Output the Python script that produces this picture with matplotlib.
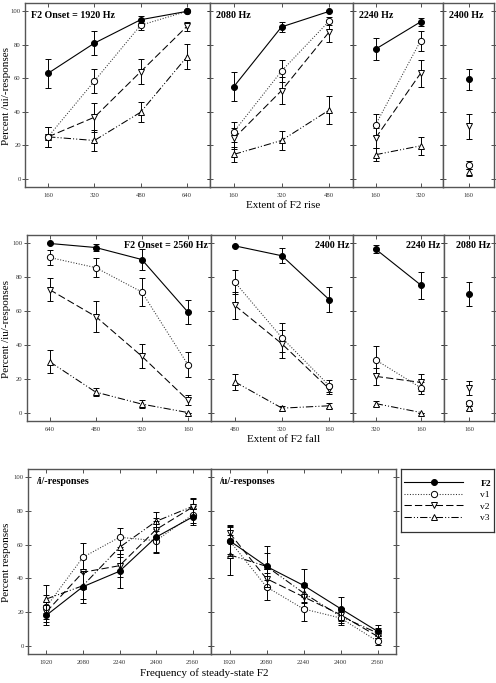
import matplotlib
matplotlib.use('Agg')
import matplotlib.pyplot as plt
from matplotlib.lines import Line2D

plt.rcParams['font.family'] = ['Liberation Serif', 'DejaVu Serif']

series = ['F2', 'v1', 'v2', 'v3']

# ---------------- Row 1: rising F2 ----------------
rise_titles = ['F2 Onset = 1920 Hz', '2080 Hz', '2240 Hz', '2400 Hz']
rise_extents = [[160, 320, 480, 640], [160, 320, 480], [160, 320], [160]]
rise_F2 = [[63, 81, 95, 100], [55, 90.7, 100], [77.4, 93.7], [59.5]]
rise_F2_err = [[8.7, 7.3, 2, 0], [8.5, 3, 0], [6.5, 2.5], [6.3]]
rise_v1 = [[25, 58.3, 91.7, 100], [28, 64.3, 94.2], [32.1, 82.3], [8.3]]
rise_v1_err = [[6, 7.2, 3, 0], [6, 6.5, 2.5], [6.5, 6], [2.5]]
rise_v2 = [[25, 36.7, 63.9, 91], [24, 52.6, 87.7], [24.2, 62.9], [31.2]]
rise_v2_err = [[6, 8.7, 7.6, 2.5], [6, 8, 6], [6, 8], [7.5]]
rise_v3 = [[25, 22.8, 39.7, 72.8], [14.5, 22.8, 41], [14.3, 19.6], [3.8]]
rise_v3_err = [[6, 6, 6, 7.4], [4.5, 5.5, 8.5], [4, 5.5], [2]]

# ---------------- Row 2: falling F2 ----------------
fall_titles = ['F2 Onset = 2560 Hz', '2400 Hz', '2240 Hz', '2080 Hz']
fall_extents = [[640, 480, 320, 160], [480, 320, 160], [320, 160], [160]]
fall_F2 = [[100, 97.6, 90.5, 59.4], [98.6, 92.7, 66.7], [96.6, 75.2], [70.3]]
fall_F2_err = [[0, 2, 6, 7.3], [0, 4.5, 7.3], [2.5, 8.2], [7]]
fall_v1 = [[91.7, 85.7, 71.3, 28.3], [77.2, 44.2, 15.8], [31.1, 14.5], [5.5]]
fall_v1_err = [[4.5, 5.5, 8, 7.4], [7, 8.5, 3.5], [8, 3.5], [1.5]]
fall_v2 = [[72.7, 56.8, 33.3, 7.3], [63.4, 40.6, 13.9], [21.4, 17.8], [14.5]]
fall_v2_err = [[7, 9, 7.2, 3], [8, 8.5, 3], [5, 5], [4]]
fall_v3 = [[30.1, 12.1, 5, 0], [18.2, 2.6, 4], [5.3, 0], [2.6]]
fall_v3_err = [[6.7, 2.5, 2.5, 0], [4.7, 1.5, 1.5], [1.5, 0], [1]]

# ---------------- Row 3: steady-state F2 ----------------
steady_freq = [1920, 2080, 2240, 2400, 2560]
steady_titles = ['/i/-responses', '/u/-responses']
i_F2 = [18, 35, 44.2, 64.5, 76.5]
i_F2_err = [6, 9.5, 10, 9.5, 5]
i_v1 = [23, 52.5, 64.4, 62.4, 77.8]
i_v1_err = [7, 8.5, 5.5, 7, 5]
i_v2 = [20, 43.6, 47.5, 69, 82.4]
i_v2_err = [6, 8, 7, 7, 5]
i_v3 = [27.7, 35.6, 58.4, 73.9, 82.8]
i_v3_err = [8.5, 8, 6, 5.5, 5]
u_F2 = [62.4, 47.1, 35.8, 22, 8.5]
u_F2_err = [9, 12, 10, 7, 4]
u_v1 = [62.4, 34.9, 21.8, 16.4, 2.6]
u_v1_err = [8, 8, 7, 4, 2]
u_v2 = [67, 39.8, 29, 18.4, 5.5]
u_v2_err = [5, 6, 6, 4, 3]
u_v3 = [54, 47.1, 31.3, 17.4, 7.5]
u_v3_err = [12, 8, 6, 4, 3]

yticks = [0, 20, 40, 60, 80, 100]

# ---------------- styles ----------------
styles = {
    'F2': dict(ls='-', marker='o', mfc='black', color='black', lw=0.8, ms=4.3),
    'v1': dict(ls=(0, (1, 1.6)), marker='o', mfc='white', color='#333333', lw=0.75, ms=4.5),
    'v2': dict(ls=(0, (7, 3)), marker='v', mfc='white', color='black', lw=0.75, ms=4.6),
    'v3': dict(ls=(0, (7, 2, 1, 2, 1, 2)), marker='^', mfc='white', color='black', lw=0.75, ms=4.6),
}
spine_col = '#555555'

W, H = 496, 683
fig = plt.figure(figsize=(W / 100, H / 100), dpi=100)


def add_ax(x0, x1, y0, y1):
    return fig.add_axes([x0 / W, 1 - y1 / H, (x1 - x0) / W, (y1 - y0) / H])


def style_ax(ax, first):
    ax.set_ylim(-5, 105)
    ax.set_yticks(yticks)
    for sp in ax.spines.values():
        sp.set_color(spine_col)
        sp.set_linewidth(1.0)
    ax.tick_params(axis='y', direction='inout', length=4, width=0.6, colors='#333333',
                   labelsize=4.8, left=True, right=True, pad=1, labelcolor='#333333')
    ax.tick_params(axis='x', direction='in', length=2.8, width=0.6, colors='#333333',
                   labelsize=4.8, top=True, bottom=True, pad=4, labelcolor='#333333')
    if not first:
        ax.tick_params(axis='y', labelleft=False)


def plot_panel(ax, labels, data_by_series, err_by_series):
    xs = list(range(len(labels)))
    for s in ['v3', 'v2', 'v1', 'F2']:
        st = styles[s]
        ax.errorbar(xs, data_by_series[s], yerr=err_by_series[s], ls=st['ls'],
                    marker=st['marker'], mfc=st['mfc'], mec='black', mew=0.7,
                    ms=st['ms'], color=st['color'], lw=st['lw'], ecolor='black',
                    elinewidth=0.7, capsize=2.2, capthick=0.7,
                    zorder=5 if s == 'F2' else 3)
    ax.set_xticks(xs)
    ax.set_xticklabels([str(v) for v in labels])
    ax.set_xlim(-0.5, len(labels) - 0.5)


# Row 1
row1_x = [(25, 210), (210, 353), (353, 443), (443, 494)]
rise_data = {'F2': rise_F2, 'v1': rise_v1, 'v2': rise_v2, 'v3': rise_v3}
rise_errs = {'F2': rise_F2_err, 'v1': rise_v1_err, 'v2': rise_v2_err, 'v3': rise_v3_err}
for j, (x0, x1) in enumerate(row1_x):
    ax = add_ax(x0, x1, 3, 187)
    plot_panel(ax, rise_extents[j], {k: v[j] for k, v in rise_data.items()},
               {k: v[j] for k, v in rise_errs.items()})
    style_ax(ax, j == 0)
    ax.annotate(rise_titles[j], xy=(0, 1), xycoords='axes fraction',
                xytext=(4.5, -12 * 0.72), textcoords='offset points',
                ha='left', va='center', fontsize=7.2, fontweight='bold')

# Row 2
row2_x = [(26.5, 211), (211, 353), (353, 444), (444, 494)]
fall_data = {'F2': fall_F2, 'v1': fall_v1, 'v2': fall_v2, 'v3': fall_v3}
fall_errs = {'F2': fall_F2_err, 'v1': fall_v1_err, 'v2': fall_v2_err, 'v3': fall_v3_err}
for j, (x0, x1) in enumerate(row2_x):
    ax = add_ax(x0, x1, 235, 421)
    plot_panel(ax, fall_extents[j], {k: v[j] for k, v in fall_data.items()},
               {k: v[j] for k, v in fall_errs.items()})
    style_ax(ax, j == 0)
    ax.annotate(fall_titles[j], xy=(1, 1), xycoords='axes fraction',
                xytext=(-2.5, -11 * 0.72), textcoords='offset points',
                ha='right', va='center', fontsize=7.2, fontweight='bold')

# Row 3
row3_x = [(28, 211), (211, 396)]
steady_data = [{'F2': i_F2, 'v1': i_v1, 'v2': i_v2, 'v3': i_v3},
               {'F2': u_F2, 'v1': u_v1, 'v2': u_v2, 'v3': u_v3}]
steady_errs = [{'F2': i_F2_err, 'v1': i_v1_err, 'v2': i_v2_err, 'v3': i_v3_err},
               {'F2': u_F2_err, 'v1': u_v1_err, 'v2': u_v2_err, 'v3': u_v3_err}]
for j, (x0, x1) in enumerate(row3_x):
    ax = add_ax(x0, x1, 469, 654)
    plot_panel(ax, steady_freq, steady_data[j], steady_errs[j])
    style_ax(ax, j == 0)
    ax.annotate(steady_titles[j], xy=(0, 1), xycoords='axes fraction',
                xytext=(5.5, -12.5 * 0.72), textcoords='offset points',
                ha='left', va='center', fontsize=7.2, fontweight='bold')

# Legend box
lax = add_ax(401, 494, 469, 532)
lax.set_xticks([])
lax.set_yticks([])
for sp in lax.spines.values():
    sp.set_color('#333333')
    sp.set_linewidth(0.9)
handles = []
for s in series:
    st = styles[s]
    handles.append(Line2D([], [], ls=st['ls'], marker=st['marker'], mfc=st['mfc'],
                          mec='black', mew=0.7, ms=st['ms'], color=st['color'], lw=st['lw']))
leg = lax.legend(handles, series, loc='center', frameon=False, fontsize=6.8,
                 handlelength=6.3, handletextpad=1.8, labelspacing=0.3,
                 borderaxespad=0, borderpad=0)
leg.get_texts()[0].set_fontweight('bold')

# Axis labels
fig.text(283.5 / W, 1 - 206 / H, 'Extent of F2 rise', ha='center', va='center', fontsize=8)
fig.text(284 / W, 1 - 440 / H, 'Extent of F2 fall', ha='center', va='center', fontsize=8)
fig.text(204 / W, 1 - 673.5 / H, 'Frequency of steady-state F2', ha='center', va='center', fontsize=8)
fig.text(7 / W, 1 - 96 / H, 'Percent /ui/-responses', rotation=90, ha='center', va='center', fontsize=8)
fig.text(7 / W, 1 - 329 / H, 'Percent /iu/-responses', rotation=90, ha='center', va='center', fontsize=8)
fig.text(7 / W, 1 - 562 / H, 'Percent responses', rotation=90, ha='center', va='center', fontsize=8)

fig.savefig('out.png', dpi=100)
